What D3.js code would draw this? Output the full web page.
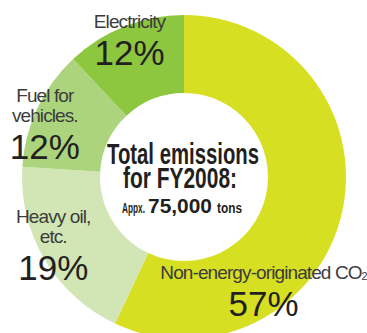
<!DOCTYPE html>
<html lang="en">
<head>
    <meta charset="UTF-8">
    <script src="https://d3js.org/d3.v7.min.js"></script>
    <style>
        body {
            margin: 0;
            background: #fff;
        }
        .name {
            font-family: "Liberation Sans", Arial, sans-serif;
            font-size: 19px;
            letter-spacing: -0.9px;
            fill: #3c3c3c;
        }
        .pct {
            font-family: "Liberation Sans", Arial, sans-serif;
            font-size: 35px;
            fill: #231f20;
        }
        .center {
            font-family: "Liberation Sans", Arial, sans-serif;
            font-weight: bold;
            fill: #231f20;
        }
    </style>
</head>
<body>
    <svg id="chart"></svg>

    <script>
        // data
        const categories = ["Non-energy-originated CO2", "Heavy oil, etc.", "Fuel for vehicles.", "Electricity"];
        const shares = [57, 19, 12, 12];
        const nameLines = [["Non-energy-originated CO|2"], ["Heavy oil,", "etc."], ["Fuel for", "vehicles."], ["Electricity"]];
        const colors = ["#d7df23", "#d1e6b4", "#acd47c", "#8dc63f"];

        // where along each wedge the label sits (fraction of the wedge angle, radius)
        const labelSpot = [[0.707, 139], [0.55, 147], [0.4, 149], [0.5, 148]];

        const width = 367, height = 333;
        const cx = 184, cy = 177, outerR = 162, innerR = 84;

        const svg = d3.select("#chart")
            .attr("width", width)
            .attr("height", height);

        const pie = d3.pie().sort(null).value(d => d.value);
        const data = pie(categories.map((c, i) => ({ name: c, value: shares[i], idx: i })));

        const arc = d3.arc().innerRadius(innerR).outerRadius(outerR);

        const g = svg.append("g").attr("transform", `translate(${cx},${cy})`);

        g.selectAll("path")
            .data(data)
            .enter()
            .append("path")
            .attr("d", arc)
            .attr("fill", d => colors[d.data.idx]);

        // labels
        data.forEach(d => {
            const [frac, r] = labelSpot[d.data.idx];
            const a = d.startAngle + (d.endAngle - d.startAngle) * frac;
            const x = r * Math.sin(a);
            const y = -r * Math.cos(a);
            const lines = nameLines[d.data.idx];
            const blockH = 51 + 20 * (lines.length - 1);
            const pctY = y + blockH / 2;
            const lab = g.append("g");

            lines.forEach((ln, i) => {
                const t = lab.append("text")
                    .attr("class", "name")
                    .attr("text-anchor", "middle")
                    .attr("x", x)
                    .attr("y", pctY - 37 - 20 * (lines.length - 1 - i));
                const parts = ln.split("|");
                t.append("tspan").text(parts[0]);
                if (parts[1]) {
                    t.append("tspan")
                        .attr("font-size", "11px")
                        .attr("dy", 1)
                        .text(parts[1]);
                }
            });

            lab.append("text")
                .attr("class", "pct")
                .attr("text-anchor", "middle")
                .attr("x", x)
                .attr("y", pctY)
                .text(d.data.value + "%");
        });

        // center text
        const c = svg.append("g").attr("class", "center");
        c.append("text")
            .attr("x", cx - 77).attr("y", 164)
            .attr("font-size", "30px")
            .attr("textLength", 152).attr("lengthAdjust", "spacingAndGlyphs")
            .text("Total emissions");
        c.append("text")
            .attr("x", cx - 61).attr("y", 188)
            .attr("font-size", "29px")
            .attr("textLength", 114).attr("lengthAdjust", "spacingAndGlyphs")
            .text("for FY2008:");
        c.append("text")
            .attr("x", cx - 62).attr("y", 213)
            .attr("font-size", "14.5px")
            .attr("textLength", 23).attr("lengthAdjust", "spacingAndGlyphs")
            .text("Appx.");
        c.append("text")
            .attr("x", cx - 36).attr("y", 213)
            .attr("font-size", "21px")
            .attr("textLength", 64).attr("lengthAdjust", "spacingAndGlyphs")
            .text("75,000");
        c.append("text")
            .attr("x", cx + 33).attr("y", 213)
            .attr("font-size", "14.5px")
            .attr("textLength", 25).attr("lengthAdjust", "spacingAndGlyphs")
            .text("tons");
    </script>
</body>
</html>
